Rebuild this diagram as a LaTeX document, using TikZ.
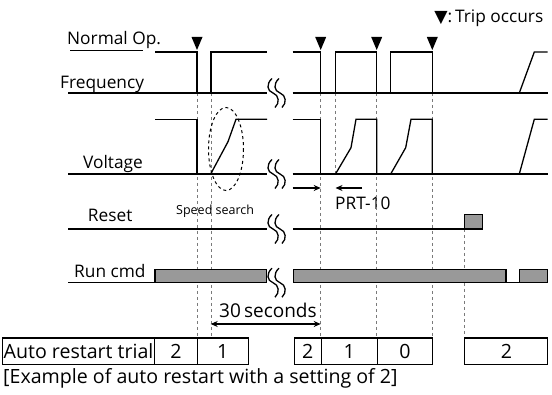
\documentclass[tikz,border=0pt]{standalone}
\usepackage{fontspec}
\setmainfont{Open Sans}
\newfontfamily\symfont{DejaVu Sans}
\usepackage{tikz}
\usetikzlibrary{arrows.meta,positioning}
\usepackage{xcolor}
\definecolor{SigBlack}{HTML}{000000}
\definecolor{SigGray}{HTML}{999999}
\definecolor{GuideGray}{HTML}{7A7A7A}
\tikzset{
    % Signal line style
    wave/.style={
        draw=SigBlack,
        line width=1.3pt
    },
    % Dashed guide line
    guide/.style={
        draw=GuideGray,
        line width=0.8pt,
        dash pattern=on 3pt off 3pt
    },
    % Gray pulse box
    pulsebox/.style={
        draw=SigBlack,
        fill=SigGray,
        line width=1.2pt
    },
    % Signal label
    sigtext/.style={
        anchor=base west,
        inner sep=0pt,
        font=\fontsize{17.3}{20}\selectfont
    },
    % Small note
    notetext/.style={
        sigtext,
        font=\fontsize{12.5}{14}\selectfont
    },
    % Table cell
    cellnode/.style={
        draw=SigBlack,
        line width=1.1pt,
        anchor=north west,
        inner sep=0pt,
        minimum height=26.7pt,
        font=\fontsize{19.6}{22}\selectfont
    },
    % Arrow styles
    myarrow/.style={
        -{Stealth[length=7pt,width=6pt]},
        line width=1.1pt,
        draw=SigBlack
    },
    biarrow/.style={
        {Stealth[length=7pt,width=6pt]}-{Stealth[length=7pt,width=6pt]},
        line width=1.1pt,
        draw=SigBlack
    },
    % Break mark
    breakmark/.pic={
        \foreach \dx in {0,7}
            \draw[line width=1.3pt] (\dx-7,-14.5) .. controls (\dx-13,-9) and (\dx-12,-2) .. (\dx-6,0)
                .. controls (\dx,2) and (\dx+1,10) .. (\dx-4,14.5);
    }
}
\begin{document}
\begin{tikzpicture}[x=1pt,y=-1pt]
    \useasboundingbox (0,0) rectangle (552,395);

    % Labels
    \node[sigtext] (normal) at (67,45) {Normal Op.};
    \node[sigtext] (freq) at (60,89) {Frequency};
    \node[sigtext] (volt) at (83,169) {Voltage};
    \node[sigtext] (reset) at (87.7,221.7) {Reset};
    \node[sigtext] (run) at (74,277.3) {Run cmd};
    \node[notetext] (speed) at (176,215) {Speed search};
    \node[sigtext] (prt) at (335,210) {PRT-10};
    \node[sigtext, font=\fontsize{19}{22}\selectfont] (thirty) at (219,318) {30\,seconds};
    \node[sigtext, anchor=base east] (legend) at (543.5,22.5) {{\symfont ▼}:\,Trip occurs};
    \draw[line width=1pt] (70,51) -- (143,51);

    % Trip marks
    \foreach \tx in {197,320.7,376.7,432.3}
        \fill[SigBlack] (\tx-5.5,37) -- (\tx+5.5,37) -- (\tx,50) -- cycle;

    % Guides
    \foreach \gx in {197,211,320.7,376.7,432.3}
        \draw[guide] (\gx,93) -- (\gx,337.5);
    \draw[guide] (335.5,93) -- (335.5,174);
    \draw[guide] (464.3,229) -- (464.3,337.5);

    % Frequency
    \draw[wave] (68,93) -- (267,93);
    \draw[wave] (155,52) -- (197,52) -- (197,93);
    \draw[wave] (211,93) -- (211,52) -- (267,52);
    \draw[wave] (292.7,93) -- (547.7,93);
    \draw[wave] (292.7,52) -- (320.7,52) -- (320.7,93);
    \draw[wave] (335.5,93) -- (335.5,52) -- (376.7,52) -- (376.7,93);
    \draw[wave] (390.7,93) -- (390.7,52) -- (432.3,52) -- (432.3,93);
    \draw[wave] (519.3,93) -- (534.3,52) -- (547.7,52);

    % Voltage
    \draw[wave] (68,174) -- (267,174);
    \draw[wave] (155,119.3) -- (197,119.3) -- (197,174);
    \draw[wave] (210.7,174) -- (228,141.7) -- (236,119.3) -- (267,119.3);
    \draw[wave] (292.7,174) -- (547.7,174);
    \draw[wave] (292.7,119.3) -- (320.7,119.3) -- (320.7,174);
    \draw[wave] (335.5,174) -- (351,147.7) -- (356,119.3) -- (376.7,119.3) -- (376.7,174);
    \draw[wave] (390.7,174) -- (405.7,147.7) -- (411,119.3) -- (432.3,119.3) -- (432.3,174);
    \draw[wave] (519.3,174) -- (534.3,119.3) -- (547.7,119.3);
    \draw[line width=1pt, dash pattern=on 3pt off 3pt] (226,149) ellipse (17.5 and 41.5);

    % Reset
    \draw[wave] (68,229) -- (267,229);
    \draw[wave] (293.3,229) -- (464.3,229);
    \draw[pulsebox] (464.3,214.3) rectangle (482.7,229);

    % Run cmd
    \draw[wave] (68,282.7) -- (155,282.7);
    \draw[pulsebox] (155,269.3) rectangle (266.7,282.7);
    \draw[pulsebox] (293.3,269.3) rectangle (506,282.7);
    \draw[wave] (506,282.7) -- (519.3,282.7);
    \draw[pulsebox] (519.3,269.3) rectangle (547.3,282.7);

    % Break marks
    \foreach \by in {93,174,229,282.7}
        \path (279,\by) pic {breakmark};

    % Time arrows
    \coordinate (pa) at (292.7,188);
    \coordinate (pb) at (320.7,188);
    \coordinate (pc) at (362,188);
    \coordinate (pd) at (335.5,188);
    \draw[myarrow] (pa) -- (pb);
    \draw[myarrow] (pc) -- (pd);
    \coordinate (ta) at (210.7,324);
    \coordinate (tb) at (320.7,324);
    \draw[biarrow] (ta) -- (tb);

    % Trial table
    \node[cellnode, minimum width=152.6pt] (trial) at (1.7,337.5) {Auto restart trial};
    \node[cellnode, minimum width=42.4pt] (t1) at (154.3,337.5) {2};
    \node[cellnode, minimum width=50.8pt] (t2) at (196.7,337.5) {1};
    \node[cellnode, minimum width=27.2pt] (t3) at (293.5,337.5) {2};
    \node[cellnode, minimum width=56pt] (t4) at (320.7,337.5) {1};
    \node[cellnode, minimum width=55.6pt] (t5) at (376.7,337.5) {0};
    \node[cellnode, minimum width=83pt] (t6) at (464.3,337.5) {2};
    \node[sigtext, font=\fontsize{19.6}{22}\selectfont] (caption) at (3,384) {[Example of auto restart with a setting of 2]};
\end{tikzpicture}
\end{document}
